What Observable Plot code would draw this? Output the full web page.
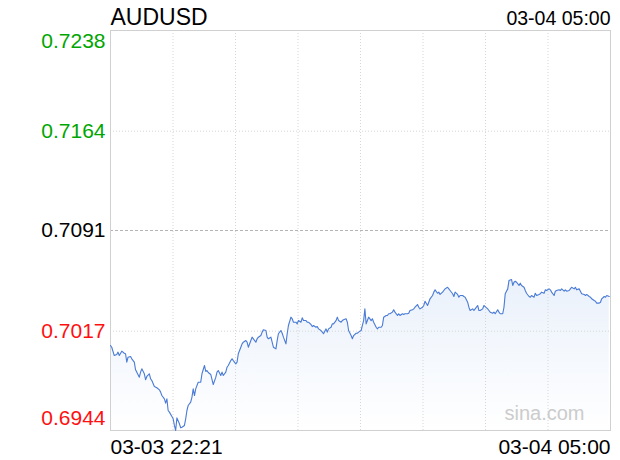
<!DOCTYPE html>
<html><head><meta charset="utf-8">
<script src="https://cdn.jsdelivr.net/npm/d3@7"></script>
<script src="https://cdn.jsdelivr.net/npm/@observablehq/plot@0.6"></script>
<style>body{margin:0;background:#fff;} svg{display:block;}</style>
</head><body><div id="chart"></div>
<script>
const symbol = "AUDUSD";
const startLabel = "03-03 22:21";
const endLabel = "03-04 05:00";
const watermark = "sina.com";
const prevClose = 0.7091;
const yTicks = [0.6944, 0.7017, 0.7091, 0.7164, 0.7238];
const yTickLabels = ["0.6944", "0.7017", "0.7091", "0.7164", "0.7238"];

// minutes after 03-03 22:21
const minutes = [
  0,1,3,5,6,7,9,11,12,13,14,16,17,19,20,21,23,24,25,27,28,29,31,32,33,35,37,39,40,41,
  43,44,45,46,47,49,50,51,52,53,55,56,57,59,60,61,62,64,65,66,67,68,70,72,73,75,76,77,78,80,82,84,
  85,86,88,89,90,92,93,94,96,97,98,100,101,102,104,105,106,108,109,110,112,113,114,116,117,118,
  120,121,122,124,125,126,128,129,130,132,133,134,136,137,138,140,141,142,144,145,146,148,149,150,152,153,154,
  156,157,158,160,161,162,164,165,166,168,169,170,172,173,174,176,177,178,180,181,182,184,185,186,188,189,190,
  192,193,194,196,197,198,200,201,202,203,204,205,206,208,209,210,212,213,214,216,217,218,220,221,222,223,
  225,226,227,229,230,231,233,234,
  235,237,238,239,241,242,243,245,246,247,249,250,251,253,254,255,257,258,259,261,262,263,265,266,267,269,270,
  271,273,274,275,277,278,279,281,282,283,285,286,287,289,290,291,293,294,295,297,298,299,301,302,303,305,306,
  307,309,310,311,313,314,315,316,317,318,320,321,322,
  323,324,326,327,328,330,331,332,334,335,336,338,339,340,342,343,344,346,347,348,350,351,352,354,355,356,358,
  359,360,362,363,364,366,367,368,370,371,372,374,375,376,378,379,380,382,383,384,386,387,388,390,391,392,394,
  395,396,398
];
const prices = [
  0.70065,0.70052,0.69991,0.69999,0.70016,0.69991,0.70023,0.70008,0.70004,0.69942,0.69979,0.69984,0.69967,0.69942,0.69886,0.69869,0.69832,0.69869,0.69893,0.69857,0.69813,0.69837,0.69857,0.69820,0.69807,0.69763,0.69754,0.69739,0.69722,0.69697,
  0.69673,0.69641,0.69673,0.69587,0.69575,0.69543,0.69526,0.69477,0.69440,0.69533,0.69489,0.69460,0.69464,0.69477,0.69526,0.69587,0.69624,0.69648,0.69685,0.69746,0.69697,0.69746,0.69795,0.69795,0.69857,0.69918,0.69874,0.69881,0.69866,0.69852,0.69778,0.69830,
  0.69869,0.69881,0.69844,0.69869,0.69844,0.69869,0.69905,0.69918,0.69954,0.69967,0.69954,0.69930,0.69942,0.70004,0.70052,0.70077,0.70089,0.70101,0.70089,0.70052,0.70101,0.70126,0.70114,0.70089,0.70114,0.70126,
  0.70138,0.70163,0.70180,0.70175,0.70126,0.70114,0.70126,0.70089,0.70052,0.70040,0.70101,0.70151,0.70175,0.70155,0.70126,0.70077,0.70151,0.70212,0.70273,0.70261,0.70236,0.70236,0.70224,0.70248,0.70236,0.70268,0.70248,
  0.70248,0.70236,0.70236,0.70219,0.70204,0.70212,0.70199,0.70204,0.70187,0.70175,0.70163,0.70151,0.70187,0.70163,0.70187,0.70199,0.70224,0.70224,0.70248,0.70273,0.70248,0.70236,0.70248,0.70254,0.70261,0.70236,0.70175,
  0.70138,0.70114,0.70138,0.70155,0.70155,0.70163,0.70175,0.70212,0.70248,0.70334,0.70224,0.70248,0.70273,0.70248,0.70261,0.70236,0.70199,0.70187,0.70199,0.70199,0.70212,0.70273,0.70285,0.70285,0.70298,0.70298,
  0.70310,0.70327,0.70310,0.70285,0.70298,0.70285,0.70298,0.70293,
  0.70298,0.70298,0.70302,0.70322,0.70327,0.70334,0.70346,0.70366,0.70346,0.70334,0.70346,0.70359,0.70390,0.70359,0.70383,0.70408,0.70432,0.70457,0.70474,0.70449,0.70457,0.70440,0.70457,0.70469,0.70481,0.70493,0.70481,
  0.70469,0.70445,0.70425,0.70457,0.70440,0.70420,0.70432,0.70432,0.70425,0.70420,0.70383,0.70346,0.70322,0.70334,0.70322,0.70334,0.70359,0.70322,0.70322,0.70334,0.70359,0.70351,0.70334,0.70322,0.70310,0.70302,0.70310,
  0.70298,0.70327,0.70310,0.70298,0.70298,0.70346,0.70445,0.70464,0.70481,0.70542,0.70550,0.70506,0.70530,
  0.70537,0.70530,0.70506,0.70523,0.70506,0.70493,0.70469,0.70449,0.70425,0.70420,0.70432,0.70420,0.70449,0.70432,0.70440,0.70445,0.70457,0.70449,0.70474,0.70469,0.70481,0.70474,0.70457,0.70432,0.70464,0.70469,0.70474,
  0.70469,0.70481,0.70464,0.70474,0.70464,0.70469,0.70481,0.70493,0.70481,0.70493,0.70474,0.70481,0.70464,0.70445,0.70440,0.70432,0.70440,0.70425,0.70420,0.70408,0.70395,0.70390,0.70376,0.70376,0.70383,0.70408,0.70425,
  0.70420,0.70432,0.70425
];
if (minutes.length !== prices.length) console.error("length mismatch", minutes.length, prices.length);

const start = new Date(2019, 2, 3, 22, 21);
const end = new Date(2019, 2, 4, 5, 0);
const data = minutes.map((m, i) => ({t: new Date(+start + m * 60000), p: prices[i]}));
const xGrid = d3.range(1, 8).map(i => new Date(+start + i * (end - start) / 8));
const tickColor = v => v > prevClose ? "#00a600" : v < prevClose ? "#ff1010" : "#000000";
const ticks = yTicks.map((v, i) => ({v, label: yTickLabels[i], c: tickColor(v)}));
const font = "'Liberation Sans', Arial, Helvetica, sans-serif";
const labelSize = 21;

const plot = Plot.plot({
  width: 620, height: 460,
  marginLeft: 110, marginRight: 10, marginTop: 30, marginBottom: 30,
  style: {fontFamily: font, background: "#fff", overflow: "visible"},
  x: {type: "time", domain: [start, end], axis: null},
  y: {domain: [yTicks[0], yTicks[4]], axis: null},
  color: {type: "identity"},
  marks: [
    Plot.areaY(data, {x: "t", y1: yTicks[0], y2: "p", fill: "#eef3fb"}),
    Plot.ruleX(xGrid, {stroke: "#d6d6d6", strokeDasharray: "1,2"}),
    Plot.ruleY([yTicks[1], yTicks[3]], {stroke: "#d6d6d6", strokeDasharray: "1,2"}),
    Plot.ruleY([prevClose], {stroke: "#b4b4b4", strokeDasharray: "3,2"}),
    Plot.frame({stroke: "#d0d0d0"}),
    Plot.lineY(data, {x: "t", y: "p", stroke: "#4a7bd5", strokeWidth: 1.1}),
    Plot.text(ticks.slice(4), {y: "v", text: "label", fill: "c", frameAnchor: "left", textAnchor: "end", dx: -5, lineAnchor: "top", dy: 3, fontSize: labelSize}),
    Plot.text(ticks.slice(1, 4), {y: "v", text: "label", fill: "c", frameAnchor: "left", textAnchor: "end", dx: -5, lineAnchor: "middle", fontSize: labelSize}),
    Plot.text(ticks.slice(0, 1), {y: "v", text: "label", fill: "c", frameAnchor: "left", textAnchor: "end", dx: -5, lineAnchor: "bottom", dy: -6, fontSize: labelSize}),
    Plot.text([startLabel], {frameAnchor: "bottom-left", textAnchor: "start", lineAnchor: "bottom", dy: 23, fontSize: labelSize, fill: "#000"}),
    Plot.text([endLabel], {frameAnchor: "bottom-right", textAnchor: "end", lineAnchor: "bottom", dy: 23, fontSize: labelSize, fill: "#000"}),
    Plot.text([symbol], {frameAnchor: "top-left", textAnchor: "start", lineAnchor: "bottom", dy: -6, fontSize: 23, fill: "#000"}),
    Plot.text([endLabel], {frameAnchor: "top-right", textAnchor: "end", lineAnchor: "bottom", dy: -6, fontSize: 19.5, fill: "#000"}),
    Plot.text([watermark], {frameAnchor: "bottom-right", textAnchor: "end", lineAnchor: "middle", dx: -26, dy: -17, fontSize: 20, fill: "#cccccc"})
  ]
});

const svg = d3.select(plot);
const defs = svg.insert("defs", ":first-child");
const grad = defs.append("linearGradient").attr("id", "areaGrad")
  .attr("x1", 0).attr("y1", 0).attr("x2", 0).attr("y2", 1);
grad.append("stop").attr("offset", "0%").attr("stop-color", "#eaf1fb");
grad.append("stop").attr("offset", "100%").attr("stop-color", "#ffffff");
svg.select('g[aria-label="area"]').attr("fill", "url(#areaGrad)");
svg.select('g[aria-label="area"] path').attr("fill", "url(#areaGrad)");

document.getElementById("chart").appendChild(plot);
</script>
</body></html>
